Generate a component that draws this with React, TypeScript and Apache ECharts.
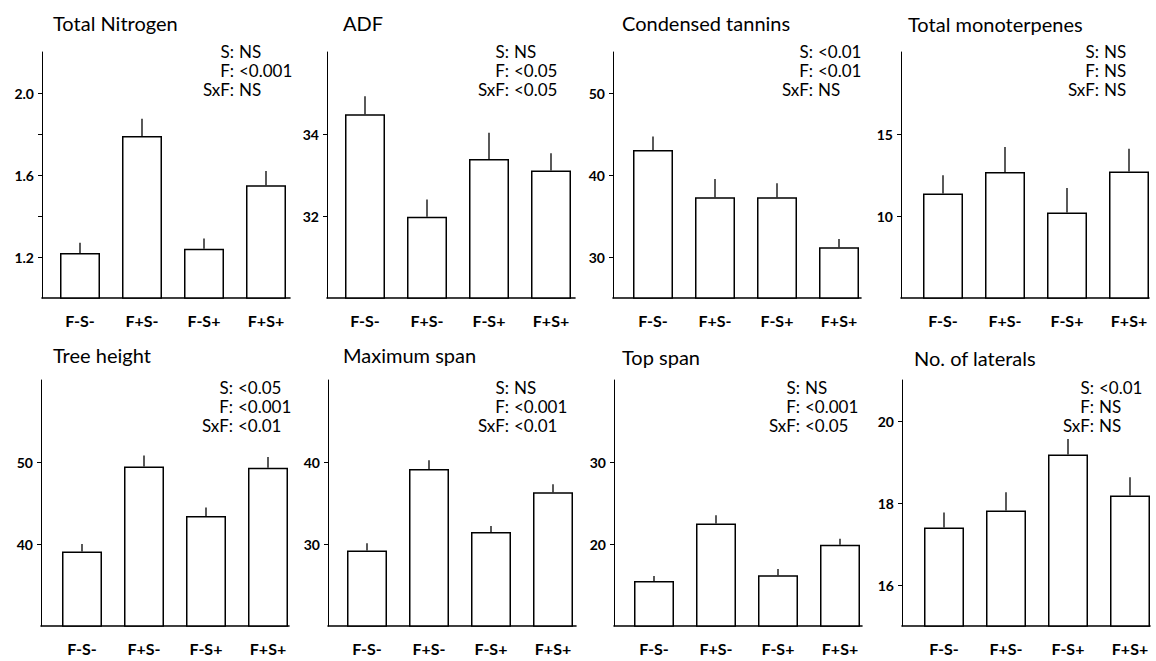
import React, { useEffect, useRef } from "react";
import * as echarts from "echarts";

// ---------- data ----------
const categories = ["F-S-", "F+S-", "F-S+", "F+S+"];

const nitrogenMean = [1.22, 1.79, 1.24, 1.55];
const nitrogenErr = [0.05, 0.085, 0.05, 0.07];
const nitrogenStats = ["NS", "<0.001", "NS"];

const adfMean = [34.48, 31.98, 33.39, 33.11];
const adfErr = [0.44, 0.42, 0.64, 0.42];
const adfStats = ["NS", "<0.05", "<0.05"];

const tanninMean = [43.05, 37.3, 37.3, 31.2];
const tanninErr = [1.65, 2.2, 1.7, 1.0];
const tanninStats = ["<0.01", "<0.01", "NS"];

const monoMean = [11.37, 12.68, 10.22, 12.72];
const monoErr = [1.11, 1.52, 1.49, 1.38];
const monoStats = ["NS", "NS", "NS"];

const heightMean = [39.1, 49.45, 43.4, 49.3];
const heightErr = [0.9, 1.35, 1.05, 1.3];
const heightStats = ["<0.05", "<0.001", "<0.01"];

const maxSpanMean = [29.2, 39.15, 31.45, 36.3];
const maxSpanErr = [0.9, 1.05, 0.75, 1.0];
const maxSpanStats = ["NS", "<0.001", "<0.01"];

const topSpanMean = [15.5, 22.5, 16.2, 19.9];
const topSpanErr = [0.6, 1.0, 0.75, 0.75];
const topSpanStats = ["NS", "<0.001", "<0.05"];

const lateralMean = [17.4, 17.82, 19.18, 18.18];
const lateralErr = [0.37, 0.44, 0.38, 0.45];
const lateralStats = ["<0.01", "NS", "NS"];

const statNames = ["S:", "F:", "SxF:"];

const panels = [
  { title: "Total Nitrogen", mean: nitrogenMean, err: nitrogenErr, stats: nitrogenStats, yMin: 1.0, yMax: 2.2, labels: [1.2, 1.6, 2.0], ticks: [1.2, 1.4, 1.6, 1.8, 2.0], dec: 1 },
  { title: "ADF", mean: adfMean, err: adfErr, stats: adfStats, yMin: 30, yMax: 36, labels: [32, 34], ticks: [32, 34], dec: 0 },
  { title: "Condensed tannins", mean: tanninMean, err: tanninErr, stats: tanninStats, yMin: 25, yMax: 55, labels: [30, 40, 50], ticks: [30, 40, 50], dec: 0 },
  { title: "Total monoterpenes", mean: monoMean, err: monoErr, stats: monoStats, yMin: 5, yMax: 20, labels: [10, 15], ticks: [10, 15], dec: 0 },
  { title: "Tree height", mean: heightMean, err: heightErr, stats: heightStats, yMin: 30, yMax: 60, labels: [40, 50], ticks: [40, 50], dec: 0 },
  { title: "Maximum span", mean: maxSpanMean, err: maxSpanErr, stats: maxSpanStats, yMin: 20, yMax: 50, labels: [30, 40], ticks: [30, 40], dec: 0 },
  { title: "Top span", mean: topSpanMean, err: topSpanErr, stats: topSpanStats, yMin: 10, yMax: 40, labels: [20, 30], ticks: [20, 30], dec: 0 },
  { title: "No. of laterals", mean: lateralMean, err: lateralErr, stats: lateralStats, yMin: 15, yMax: 21, labels: [16, 18, 20], ticks: [16, 18, 20], dec: 0 },
];

// ---------- layout (pixels) ----------
const layout = [
  { axisX: 42, firstOff: 38, top: 52, base: 298, titleX: 53, titleY: 23, colonX: 234, statY: 51 },
  { axisX: 327, firstOff: 38, top: 52, base: 298, titleX: 343, titleY: 23, colonX: 509, statY: 51 },
  { axisX: 613, firstOff: 40, top: 52, base: 298, titleX: 622, titleY: 23, colonX: 813, statY: 51 },
  { axisX: 901, firstOff: 42, top: 52, base: 298, titleX: 908, titleY: 24, colonX: 1099, statY: 51 },
  { axisX: 41, firstOff: 41, top: 380, base: 626, titleX: 53, titleY: 355, colonX: 233, statY: 387 },
  { axisX: 328, firstOff: 39, top: 380, base: 626, titleX: 343, titleY: 355, colonX: 509, statY: 387 },
  { axisX: 614, firstOff: 40, top: 380, base: 626, titleX: 622, titleY: 357, colonX: 800, statY: 387 },
  { axisX: 902, firstOff: 42, top: 380, base: 626, titleX: 914, titleY: 358, colonX: 1094, statY: 387 },
];
const BAND = 62;
const FONT = "Lato, 'Noto Sans', sans-serif";

function buildOption() {
  const grid: any[] = [];
  const xAxis: any[] = [];
  const yAxis: any[] = [];
  const series: any[] = [];
  const graphic: any[] = [];

  panels.forEach((p, i) => {
    const L = layout[i];
    const xMin = -L.firstOff / BAND;
    grid.push({ left: L.axisX, top: L.top, width: BAND * 4, height: L.base - L.top, containLabel: false });
    xAxis.push({
      gridIndex: i,
      type: "value",
      min: xMin,
      max: xMin + 4,
      splitLine: { show: false },
      axisTick: { show: false },
      axisLine: { show: true, onZero: false, lineStyle: { color: "#000", width: 1.6 } },
      axisLabel: {
        customValues: [0, 1, 2, 3],
        formatter: (v: number) => categories[Math.round(v)],
        margin: 14,
        color: "#000",
        fontFamily: FONT,
        fontSize: 16,
        fontWeight: "bold",
      },
    });
    yAxis.push({
      gridIndex: i,
      type: "value",
      min: p.yMin,
      max: p.yMax,
      splitLine: { show: false },
      axisLine: { show: true, onZero: false, lineStyle: { color: "#000", width: 1 } },
      axisTick: { show: true, customValues: p.ticks, length: 4, lineStyle: { color: "#000", width: 1 } },
      axisLabel: {
        customValues: p.labels,
        formatter: (v: number) => v.toFixed(p.dec),
        margin: 8,
        color: "#000",
        fontFamily: FONT,
        fontSize: 14,
        fontWeight: "bold",
      },
    });
    series.push({
      type: "bar",
      xAxisIndex: i,
      yAxisIndex: i,
      barWidth: 40,
      silent: true,
      data: p.mean.map((v, j) => [j, v]),
      itemStyle: { color: "#fff", borderColor: "#000", borderWidth: 1.5 },
    });
    series.push({
      type: "custom",
      xAxisIndex: i,
      yAxisIndex: i,
      silent: true,
      z: 3,
      encode: { x: 0, y: [1, 2] },
      data: p.mean.map((v, j) => [j, v, v + p.err[j]]),
      renderItem: (params: any, api: any) => {
        const x = api.value(0);
        const a = api.coord([x, api.value(1)]);
        const b = api.coord([x, api.value(2)]);
        return {
          type: "line",
          shape: { x1: a[0], y1: a[1], x2: b[0], y2: b[1] },
          style: { stroke: "#000", lineWidth: 1.3 },
        };
      },
    });
    graphic.push({
      type: "text",
      x: L.titleX,
      y: L.titleY,
      style: { text: p.title, fill: "#000", font: `20px ${FONT}`, textAlign: "left", textVerticalAlign: "middle" },
    });
    statNames.forEach((n, k) => {
      const y = L.statY + k * 19;
      graphic.push({
        type: "text",
        x: L.colonX,
        y,
        style: { text: n, fill: "#000", font: `17px ${FONT}`, textAlign: "right", textVerticalAlign: "middle" },
      });
      graphic.push({
        type: "text",
        x: L.colonX + 5,
        y,
        style: { text: p.stats[k], fill: "#000", font: `17px ${FONT}`, textAlign: "left", textVerticalAlign: "middle" },
      });
    });
  });

  return { animation: false, backgroundColor: "#fff", grid, xAxis, yAxis, series, graphic };
}

export default function App() {
  const ref = useRef<HTMLDivElement>(null);
  useEffect(() => {
    if (!ref.current) return;
    const chart = echarts.init(ref.current, null, { renderer: "svg" });
    chart.setOption(buildOption() as any);
    return () => chart.dispose();
  }, []);
  return <div ref={ref} style={{ position: "fixed", left: 0, top: 0, width: 1156, height: 661 }} />;
}
